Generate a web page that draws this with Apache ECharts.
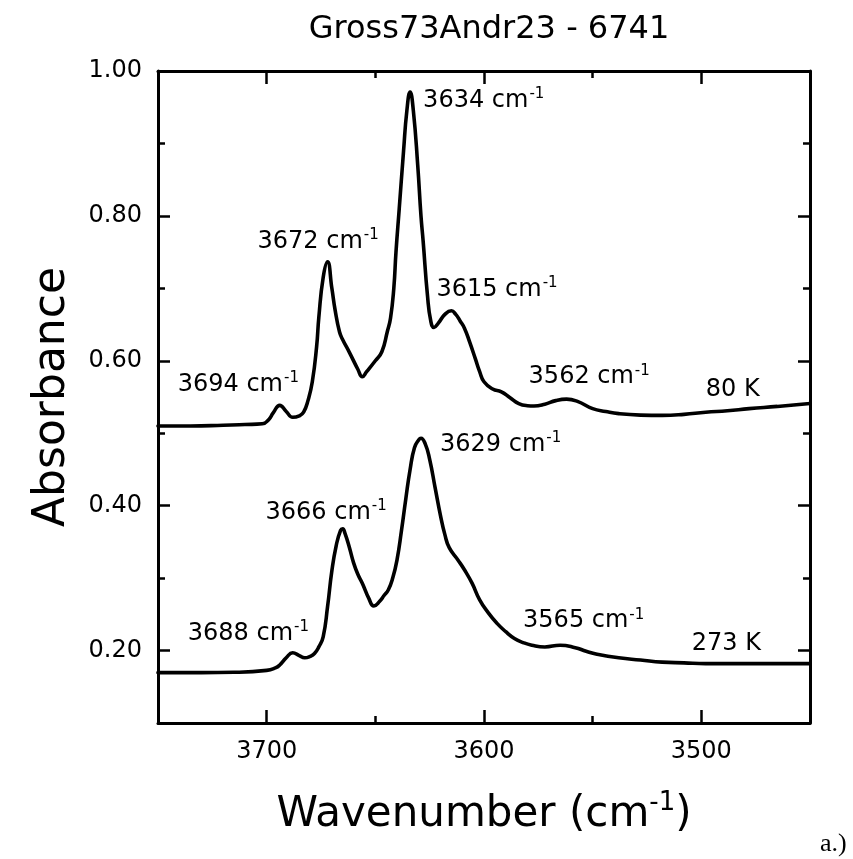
<!DOCTYPE html>
<html>
<head>
<meta charset="utf-8">
<script src="https://cdn.jsdelivr.net/npm/echarts@6/dist/echarts.min.js"></script>
<style>
  html, body { margin: 0; padding: 0; background: #fff; }
  #chart { width: 853px; height: 859px; }
</style>
</head>
<body>
<div id="chart"></div>
<script>
// O-H stretching region spectra, 80 K and 273 K
const wave80 = [3750, 3735, 3720, 3710, 3702, 3699, 3697, 3694, 3691, 3688, 3685, 3683, 3681, 3679, 3677,
  3676, 3674, 3672, 3670, 3668.5, 3666.5, 3665, 3662, 3658, 3656, 3654, 3650, 3647, 3644.5, 3643, 3641.5,
  3640.5, 3639, 3637, 3635.5, 3634, 3632.5, 3630.5, 3629, 3628, 3626, 3624.5, 3623, 3621, 3618, 3615,
  3613, 3611, 3609, 3606.5, 3604, 3602, 3600, 3596, 3592, 3588, 3584, 3580, 3577, 3572, 3567, 3562,
  3557, 3550, 3544, 3538, 3528, 3518, 3508, 3498, 3488, 3478, 3465, 3450];
const abs80 = [0.510, 0.510, 0.511, 0.512, 0.513, 0.519, 0.528, 0.5385, 0.530, 0.522, 0.524, 0.529, 0.545, 0.571, 0.620,
  0.660, 0.715, 0.7365, 0.700, 0.670, 0.640, 0.629, 0.612, 0.588, 0.578, 0.585, 0.600, 0.6125, 0.640, 0.659, 0.700,
  0.750, 0.810, 0.890, 0.945, 0.971, 0.945, 0.870, 0.800, 0.765, 0.690, 0.655, 0.646, 0.652, 0.664, 0.669,
  0.664, 0.655, 0.645, 0.625, 0.603, 0.585, 0.571, 0.561, 0.557, 0.549, 0.541, 0.538, 0.5375, 0.540, 0.545, 0.547,
  0.544, 0.534, 0.530, 0.527, 0.525, 0.5246, 0.526, 0.529, 0.531, 0.534, 0.537, 0.541];

const wave273 = [3750, 3730, 3715, 3700, 3696, 3694, 3691, 3688, 3685, 3682.5, 3680, 3678, 3676, 3674, 3672,
  3670, 3668, 3666, 3665, 3664, 3662, 3660, 3658, 3656, 3653, 3650.7, 3648, 3646, 3644, 3642, 3640, 3638,
  3636, 3634, 3632, 3630, 3629, 3627, 3625, 3622.5, 3620, 3618, 3616, 3612, 3609, 3605.5, 3602, 3598, 3594,
  3590, 3586, 3582, 3578, 3572, 3565, 3558, 3553, 3548, 3538, 3528, 3518, 3508, 3498, 3478, 3460, 3450];
const abs273 = [0.1695, 0.1695, 0.170, 0.1726, 0.176, 0.180, 0.190, 0.197, 0.193, 0.190, 0.192, 0.196, 0.205, 0.219, 0.260,
  0.310, 0.345, 0.366, 0.368, 0.362, 0.343, 0.321, 0.305, 0.293, 0.272, 0.2615, 0.268, 0.276, 0.284, 0.300, 0.3255, 0.365,
  0.409, 0.450, 0.480, 0.491, 0.493, 0.485, 0.464, 0.425, 0.386, 0.360, 0.342, 0.325, 0.3115, 0.293, 0.270, 0.252, 0.2375,
  0.226, 0.2167, 0.211, 0.2074, 0.205, 0.2074, 0.204, 0.199, 0.195, 0.190, 0.187, 0.184, 0.183, 0.182, 0.182, 0.182, 0.182];

// labelled band positions (cm-1)
const peaks80 = [3694, 3672, 3634, 3615, 3562];
const peaks273 = [3688, 3666, 3629, 3565];
const tempLabels = ['80 K', '273 K'];
const tempLabelWave = [3480, 3480];

// axis ticks
const xMajorTicks = [3500, 3600, 3700];
const xMinorTicks = [3550, 3650];
const yMajorTicks = [0.2, 0.4, 0.6, 0.8, 1.0];
const yMinorTicks = [0.3, 0.5, 0.7, 0.9];

// pixel offsets for annotation placement (left edge / vertical centre relative to the anchor point)
const noteOffset = {
  '80:3694': [-102, -21], '80:3672': [-70, -20], '80:3634': [13, 9], '80:3615': [-15, -21], '80:3562': [-38, -22],
  '273:3688': [-105, -19], '273:3666': [-75, -18], '273:3629': [19, 6], '273:3565': [-37, -24],
  'T0': [-39, -19], 'T1': [-53, -20]
};

const FONT = 'DejaVu Sans';
const BLACK = '#000';

function pairs(w, a) { return w.map((v, i) => [v, a[i]]); }
function valueAt(w, a, x) {
  for (let i = 0; i < w.length - 1; i++) {
    const w0 = w[i], w1 = w[i + 1];
    if ((x <= w0 && x >= w1) || (x >= w0 && x <= w1)) {
      const t = (x - w0) / (w1 - w0 || 1);
      return a[i] + t * (a[i + 1] - a[i]);
    }
  }
  return a[a.length - 1];
}

const richNote = {
  n: { fontFamily: FONT, fontSize: 24, color: BLACK, lineHeight: 28 },
  s: { fontFamily: FONT, fontSize: 15, color: BLACK, verticalAlign: 'top', lineHeight: 15, padding: [0, 0, 0, 1] },
  t: { fontFamily: FONT, fontSize: 24, color: BLACK, lineHeight: 28 }
};

const notes = [];
peaks80.forEach(p => notes.push({
  value: [p, valueAt(wave80, abs80, p)],
  label: { formatter: '{n|' + p + ' cm}{s|-1}', offset: noteOffset['80:' + p] }
}));
peaks273.forEach(p => notes.push({
  value: [p, valueAt(wave273, abs273, p)],
  label: { formatter: '{n|' + p + ' cm}{s|-1}', offset: noteOffset['273:' + p] }
}));
const curves = [[wave80, abs80], [wave273, abs273]];
tempLabels.forEach((t, i) => notes.push({
  value: [tempLabelWave[i], valueAt(curves[i][0], curves[i][1], tempLabelWave[i])],
  label: { formatter: '{t|' + t + '}', offset: noteOffset['T' + i] }
}));

const X_MIN = 3450, X_MAX = 3750, Y_MIN = 0.1, Y_MAX = 1.0;

function xAxisDef(position, ticks, len, withLabels, withLine) {
  return {
    type: 'value', gridIndex: 0, position: position, min: X_MIN, max: X_MAX, inverse: true,
    axisLine: { show: withLine, onZero: false, lineStyle: { color: BLACK, width: 3 } },
    axisTick: { show: true, inside: true, length: len, customValues: ticks, lineStyle: { color: BLACK, width: 2.5 } },
    axisLabel: withLabels ? {
      show: true, customValues: ticks, margin: 17, color: BLACK, fontFamily: FONT, fontSize: 24,
      formatter: v => String(v)
    } : { show: false },
    splitLine: { show: false }
  };
}
function yAxisDef(position, ticks, len, withLabels, withLine) {
  return {
    type: 'value', gridIndex: 0, position: position, min: Y_MIN, max: Y_MAX,
    axisLine: { show: withLine, onZero: false, lineStyle: { color: BLACK, width: 3 } },
    axisTick: { show: true, inside: true, length: len, customValues: ticks, lineStyle: { color: BLACK, width: 2.5 } },
    axisLabel: withLabels ? {
      show: true, customValues: ticks, margin: 16, color: BLACK, fontFamily: FONT, fontSize: 24,
      formatter: v => v.toFixed(2)
    } : { show: false },
    splitLine: { show: false }
  };
}

const xBottom = xAxisDef('bottom', xMajorTicks, 13, true, true);
xBottom.name = '{a|Wavenumber (cm}{s|-1}{a|)}';
xBottom.nameLocation = 'middle';
xBottom.nameGap = 67;
xBottom.nameTextStyle = {
  rich: {
    a: { fontFamily: FONT, fontSize: 42, color: BLACK, lineHeight: 50 },
    s: { fontFamily: FONT, fontSize: 26, color: BLACK, verticalAlign: 'top', lineHeight: 26 }
  }
};
const yLeft = yAxisDef('left', yMajorTicks, 12, true, true);
yLeft.name = 'Absorbance';
yLeft.nameLocation = 'middle';
yLeft.nameGap = 72;
yLeft.nameTextStyle = { fontFamily: FONT, fontSize: 44, color: BLACK, lineHeight: 50 };

const lineStyle = { color: BLACK, width: 3.6, join: 'round', cap: 'round' };

const option = {
  backgroundColor: '#fff',
  animation: false,
  title: {
    text: 'Gross73Andr23 - 6741',
    left: 484, top: 9, textAlign: 'center',
    textStyle: { fontFamily: FONT, fontSize: 32, fontWeight: 'normal', color: BLACK }
  },
  grid: { left: 158, top: 71, width: 652, height: 652, containLabel: false },
  xAxis: [
    xBottom,
    xAxisDef('bottom', xMinorTicks, 7, false, false),
    xAxisDef('top', xMajorTicks, 13, false, true),
    xAxisDef('top', xMinorTicks, 7, false, false)
  ],
  yAxis: [
    yLeft,
    yAxisDef('left', yMinorTicks, 7, false, false),
    yAxisDef('right', yMajorTicks, 12, false, true),
    yAxisDef('right', yMinorTicks, 7, false, false)
  ],
  series: [
    {
      name: '80 K', type: 'line', xAxisIndex: 0, yAxisIndex: 0, data: pairs(wave80, abs80),
      showSymbol: false, smooth: 0.5, lineStyle: lineStyle
    },
    {
      name: '273 K', type: 'line', xAxisIndex: 0, yAxisIndex: 0, data: pairs(wave273, abs273),
      showSymbol: false, smooth: 0.5, lineStyle: lineStyle
    },
    {
      name: 'notes', type: 'scatter', xAxisIndex: 0, yAxisIndex: 0, symbolSize: 0, silent: true,
      data: notes,
      label: { show: true, position: 'right', distance: 0, color: BLACK, opacity: 1, rich: richNote },
      z: 5
    }
  ],
  graphic: [
    {
      type: 'text', left: 820, top: 831,
      style: { text: 'a.)', fontFamily: 'Liberation Serif', fontSize: 26, fill: BLACK }
    }
  ]
};

const chart = echarts.init(document.getElementById('chart'), null, { renderer: 'canvas' });
chart.setOption(option);
</script>
</body>
</html>
